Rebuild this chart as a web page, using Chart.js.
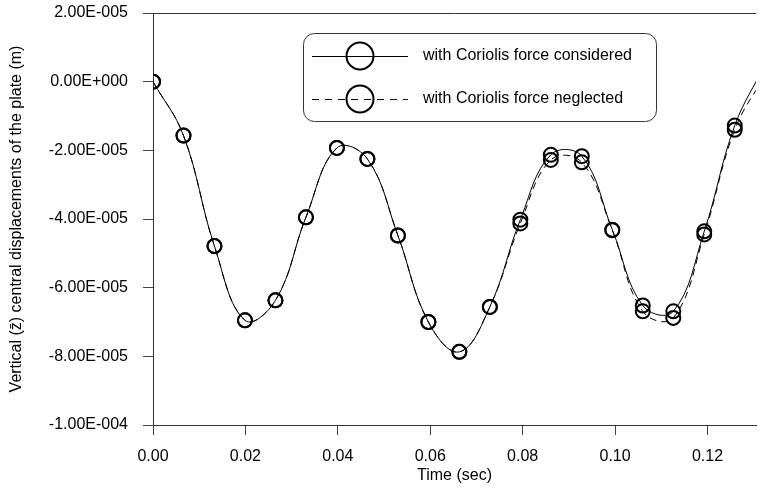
<!DOCTYPE html>
<html>
<head>
<meta charset="utf-8">
<title>Vertical central displacements of the plate</title>
<script src="https://cdn.jsdelivr.net/npm/chart.js@4.4.1/dist/chart.umd.min.js"></script>
<style>
    html, body { margin: 0; padding: 0; background: #fff; }
    #wrap { width: 765px; height: 488px; position: relative; }
</style>
</head>
<body>
<div id="wrap"><canvas id="plateChart"></canvas></div>
<script>
// =======================================================
// DADOS
// =======================================================
const timeSec = [0, 0.0066, 0.0133, 0.0199, 0.0265, 0.0331, 0.0398, 0.0464, 0.0530, 0.0596,
                 0.0663, 0.0729, 0.0795, 0.0861, 0.0928, 0.0994, 0.1060, 0.1126, 0.1193, 0.1259, 0.1325];

const withCoriolis = [0, -1.57e-5, -4.79e-5, -6.95e-5, -6.37e-5, -3.95e-5, -1.93e-5, -2.25e-5, -4.48e-5, -7.00e-5,
                      -7.87e-5, -6.56e-5, -4.02e-5, -2.13e-5, -2.17e-5, -4.31e-5, -6.52e-5, -6.69e-5, -4.36e-5, -1.28e-5, 0.5e-5];

const withoutCoriolis = [0, -1.57e-5, -4.79e-5, -6.95e-5, -6.37e-5, -3.95e-5, -1.93e-5, -2.25e-5, -4.48e-5, -7.00e-5,
                         -7.87e-5, -6.56e-5, -4.13e-5, -2.28e-5, -2.35e-5, -4.33e-5, -6.69e-5, -6.88e-5, -4.45e-5, -1.40e-5, 0.2e-5];

const seriesNames = ['with Coriolis force considered', 'with Coriolis force neglected'];

const xTickValues = [0, 0.02, 0.04, 0.06, 0.08, 0.10, 0.12];
const yTickValues = [-1.0e-4, -8.0e-5, -6.0e-5, -4.0e-5, -2.0e-5, 0, 2.0e-5];

const X_MAX = 0.1305;
const FONT = 'Arial, "Liberation Sans", sans-serif';

// =======================================================
// FORMATAÇÃO
// =======================================================
function formatSci(value) {
    if (Math.abs(value) < 1e-12) return '0.00E+000';
    const [mant, exp] = value.toExponential(2).split('e');
    const e = parseInt(exp, 10);
    const sign = e < 0 ? '-' : '+';
    return `${mant}E${sign}${String(Math.abs(e)).padStart(3, '0')}`;
}

const toPoints = (ys) => timeSec.map((t, i) => ({ x: t, y: ys[i] }));

// =======================================================
// PLUGINS (moldura superior + legenda em caixa)
// =======================================================
const topFramePlugin = {
    id: 'topFrame',
    afterDraw(chart) {
        const { ctx, chartArea } = chart;
        ctx.save();
        ctx.strokeStyle = '#333';
        ctx.lineWidth = 1;
        ctx.beginPath();
        ctx.moveTo(chartArea.left, chartArea.top + 0.5);
        ctx.lineTo(chartArea.right, chartArea.top + 0.5);
        ctx.stroke();
        ctx.restore();
    }
};

const boxLegendPlugin = {
    id: 'boxLegend',
    afterDraw(chart) {
        const ctx = chart.ctx;
        const box = { x: 303.5, y: 33.5, w: 353, h: 88, r: 11 };
        ctx.save();
        ctx.fillStyle = '#fff';
        ctx.strokeStyle = '#333';
        ctx.lineWidth = 1;
        ctx.beginPath();
        ctx.roundRect(box.x, box.y, box.w, box.h, box.r);
        ctx.fill();
        ctx.stroke();

        const rows = [56, 99];
        const dashes = [[], [7, 6]];
        rows.forEach((y, i) => {
            ctx.strokeStyle = '#000';
            ctx.lineWidth = 1;
            ctx.setLineDash(dashes[i]);
            ctx.beginPath();
            ctx.moveTo(312, y + 0.5);
            ctx.lineTo(408, y + 0.5);
            ctx.stroke();
            ctx.setLineDash([]);
            ctx.lineWidth = 2;
            ctx.beginPath();
            ctx.arc(360, y, 13.5, 0, Math.PI * 2);
            ctx.stroke();

            ctx.fillStyle = '#000';
            ctx.font = `16px ${FONT}`;
            ctx.textAlign = 'left';
            ctx.textBaseline = 'middle';
            ctx.fillText(seriesNames[i], 423, y);
        });
        ctx.restore();
    }
};

// =======================================================
// GRÁFICO
// =======================================================
function renderPlateChart() {
    const ctx = document.getElementById('plateChart');
    if (!ctx) return;

    const commonLine = {
        borderColor: '#000',
        borderWidth: 1,
        tension: 0.4,
        pointRadius: 7,
        pointBorderWidth: 2,
        pointBorderColor: '#000',
        pointBackgroundColor: 'rgba(0,0,0,0)',
        clip: 0
    };

    new Chart(ctx, {
        type: 'line',
        data: {
            datasets: [
                { ...commonLine, label: seriesNames[0], data: toPoints(withCoriolis) },
                { ...commonLine, label: seriesNames[1], data: toPoints(withoutCoriolis), borderDash: [7, 5] }
            ]
        },
        options: {
            responsive: true,
            maintainAspectRatio: false,
            animation: false,
            devicePixelRatio: 1,
            layout: { padding: { top: 13, right: 0, bottom: 0, left: 0 } },
            plugins: { legend: { display: false }, tooltip: { enabled: false } },
            scales: {
                x: {
                    type: 'linear',
                    min: 0,
                    max: X_MAX,
                    afterBuildTicks: (scale) => { scale.ticks = xTickValues.map(v => ({ value: v })); },
                    afterFit: (scale) => { scale.height = 63; scale.paddingLeft = 0; scale.paddingRight = 0; },
                    grid: { drawOnChartArea: false, drawTicks: true, tickLength: 10, color: '#444' },
                    border: { display: true, color: '#333', width: 1 },
                    ticks: {
                        color: '#000',
                        padding: 12,
                        font: { family: FONT, size: 16 },
                        maxRotation: 0,
                        callback: (v) => Number(v).toFixed(2)
                    },
                    title: {
                        display: true,
                        text: 'Time (sec)',
                        color: '#000',
                        font: { family: FONT, size: 16 },
                        padding: { top: 0, bottom: 3 }
                    }
                },
                y: {
                    min: -1.0e-4,
                    max: 2.0e-5,
                    afterBuildTicks: (scale) => { scale.ticks = yTickValues.map(v => ({ value: v })); },
                    afterFit: (scale) => { scale.width = 153; scale.paddingTop = 0; scale.paddingBottom = 0; },
                    grid: { drawOnChartArea: false, drawTicks: true, tickLength: 10, color: '#444' },
                    border: { display: true, color: '#333', width: 1 },
                    ticks: {
                        color: '#000',
                        padding: 15,
                        font: { family: FONT, size: 16 },
                        callback: (v) => formatSci(v)
                    },
                    title: {
                        display: true,
                        text: 'Vertical (z\u0304) central displacements of the plate (m)',
                        color: '#000',
                        font: { family: FONT, size: 16 },
                        padding: { top: 7, bottom: 0 }
                    }
                }
            }
        },
        plugins: [topFramePlugin, boxLegendPlugin]
    });
}

renderPlateChart();
</script>
</body>
</html>
